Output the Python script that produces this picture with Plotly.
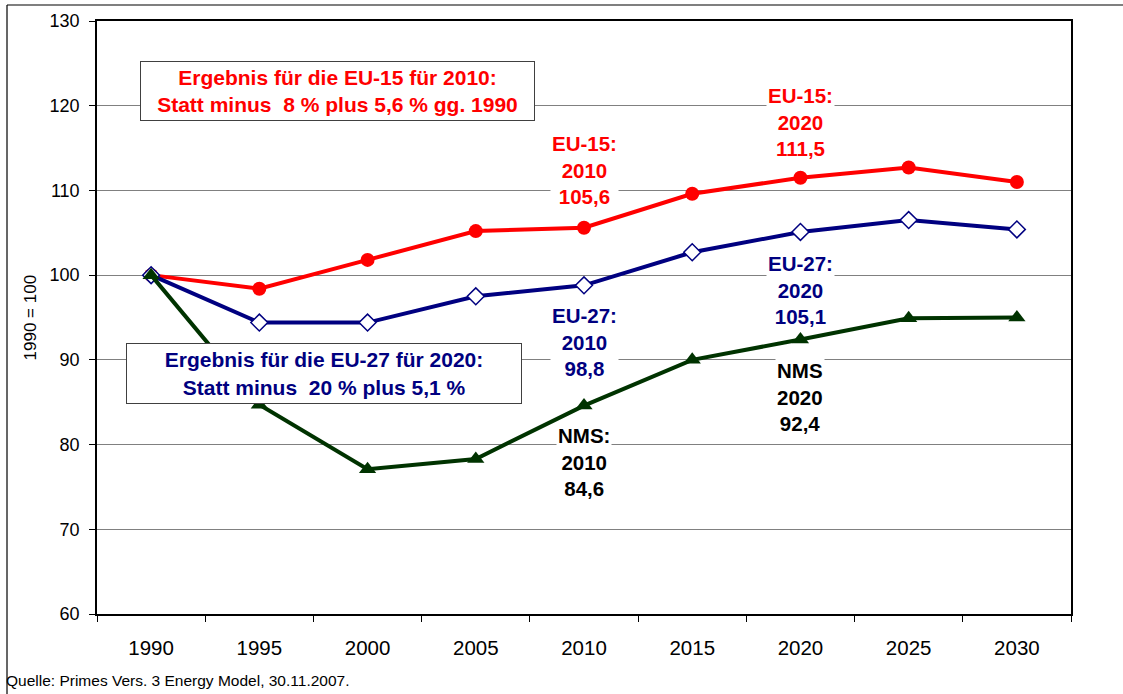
import plotly.graph_objects as go

years = ["1990", "1995", "2000", "2005", "2010", "2015", "2020", "2025", "2030"]
eu15 = [100.0, 98.4, 101.8, 105.2, 105.6, 109.6, 111.5, 112.7, 111.0]
eu27 = [100.0, 94.4, 94.4, 97.5, 98.8, 102.7, 105.1, 106.5, 105.4]
nms = [100.0, 84.7, 77.1, 78.3, 84.6, 90.0, 92.4, 94.9, 95.0]

RED = "#FF0000"
NAVY = "#000080"
GREEN = "#003300"
FONT = "Liberation Sans, Arial, sans-serif"

fig = go.Figure()
fig.add_trace(go.Scatter(x=years, y=eu15, mode="lines+markers", name="EU-15",
                         line=dict(color=RED, width=4),
                         marker=dict(symbol="circle", size=14, color=RED)))
fig.add_trace(go.Scatter(x=years, y=eu27, mode="lines+markers", name="EU-27",
                         line=dict(color=NAVY, width=4),
                         marker=dict(symbol="diamond", size=13, color="white",
                                     line=dict(color=NAVY, width=1.5))))
fig.add_trace(go.Scatter(x=years, y=nms, mode="lines+markers", name="NMS",
                         line=dict(color=GREEN, width=4),
                         marker=dict(symbol="triangle-up", size=15, color=GREEN)))

# point labels: (category, y of middle line, text, colour)
labels = [
    ("2010", 112.4, "EU-15:<br>2010<br>105,6", RED),
    ("2020", 118.1, "EU-15:<br>2020<br>111,5", RED),
    ("2010", 92.1, "EU-27:<br>2010<br>98,8", NAVY),
    ("2020", 98.3, "EU-27:<br>2020<br>105,1", NAVY),
    ("2020", 85.6, "NMS<br>2020<br>92,4", "black"),
    ("2010", 77.9, "NMS:<br>2010<br>84,6", "black"),
]
for cat, ym, txt, col in labels:
    fig.add_annotation(x=years.index(cat), y=ym, xref="x", yref="y",
                       text="<b>" + txt + "</b>", showarrow=False,
                       font=dict(family=FONT, size=20.5, color=col),
                       bgcolor="white", borderpad=1, align="center",
                       xanchor="center", yanchor="middle")

# boxes
fig.add_annotation(x=0.2474, y=121.7, xref="paper", yref="y",
                   text="<b>Ergebnis für die EU-15 für 2010:<br>Statt minus  8 % plus 5,6 % gg. 1990</b>",
                   showarrow=False, font=dict(family=FONT, size=21, color=RED),
                   bgcolor="white", bordercolor="#404040", borderwidth=1,
                   width=391, height=56, align="center",
                   xanchor="center", yanchor="middle")
fig.add_annotation(x=0.233, y=88.4, xref="paper", yref="y",
                   text="<b>Ergebnis für die EU-27 für 2020:<br>Statt minus  20 % plus 5,1 %</b>",
                   showarrow=False, font=dict(family=FONT, size=21, color=NAVY),
                   bgcolor="white", bordercolor="#404040", borderwidth=1,
                   width=392, height=57, align="center",
                   xanchor="center", yanchor="middle")

# y axis title
fig.add_annotation(x=-0.0678, y=0.5, xref="paper", yref="paper",
                   text="1990 = 100", textangle=-90, showarrow=False,
                   font=dict(family=FONT, size=17, color="black"),
                   xanchor="center", yanchor="middle")
# source
fig.add_annotation(x=-0.0955, y=-0.1113, xref="paper", yref="paper",
                   text="Quelle: Primes Vers. 3 Energy Model, 30.11.2007.",
                   showarrow=False, font=dict(family=FONT, size=15.5, color="black"),
                   xanchor="left", yanchor="middle")

# outer frame lines
fig.add_shape(type="line", xref="paper", yref="paper", x0=-0.0924, x1=-0.0924,
              y0=1.0270, y1=-0.14, line=dict(color="black", width=1.2))
fig.add_shape(type="line", xref="paper", yref="paper", x0=-0.0924, x1=1.06,
              y0=1.0270, y1=1.0270, line=dict(color="black", width=1.2))

fig.update_layout(
    width=1123, height=694,
    margin=dict(l=97, r=52, t=21, b=80),
    paper_bgcolor="white", plot_bgcolor="white",
    showlegend=False,
    font=dict(family=FONT, color="black"),
)
fig.update_xaxes(type="category", range=[-0.5, 8.5], tickson="boundaries",
                 ticks="outside", ticklen=6, tickcolor="black", tickwidth=1,
                 showline=True, linecolor="black", linewidth=1.5, mirror=True,
                 showgrid=False, tickfont=dict(size=20.5, family=FONT),
                 ticklabelstandoff=15)
fig.update_yaxes(range=[60, 130], dtick=10, ticks="outside", ticklen=6,
                 tickcolor="black", tickwidth=1,
                 showline=True, linecolor="black", linewidth=1.5, mirror=True,
                 showgrid=True, gridcolor="#808080", gridwidth=1,
                 tickfont=dict(size=18, family=FONT), zeroline=False,
                 ticklabelstandoff=6)

fig.write_html("out.html", config={"displayModeBar": False},
               post_script="document.body.style.margin='0';document.body.style.overflow='hidden';")
